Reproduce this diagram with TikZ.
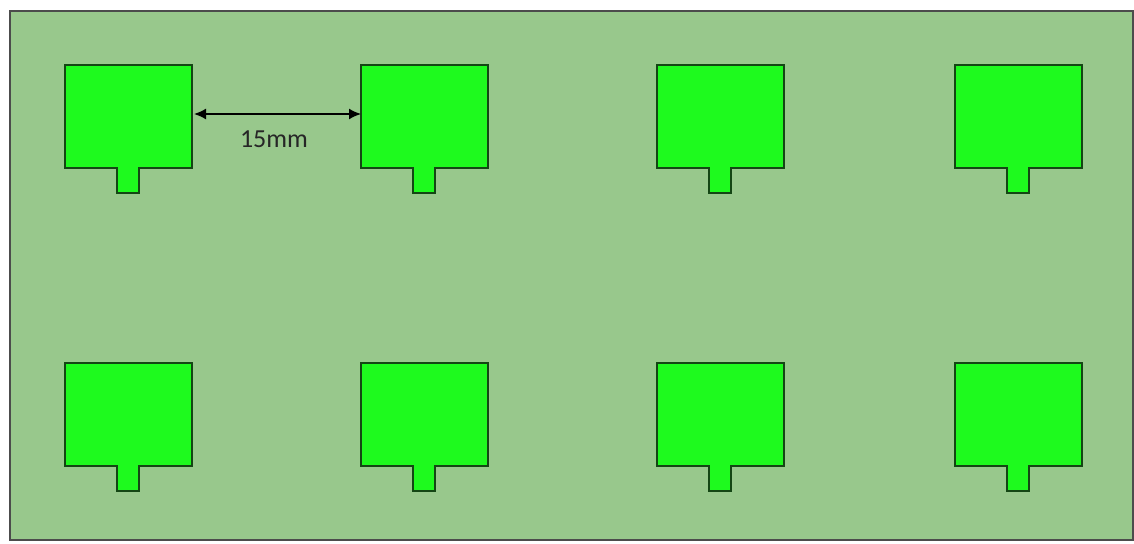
\documentclass[tikz,border=0pt]{standalone}
\usepackage{fontspec}
\setmainfont{Carlito}
\usepackage{tikz}
\usetikzlibrary{arrows, arrows.meta, shapes, positioning}
\definecolor{boardgreen}{RGB}{152,200,140}
\definecolor{patchgreen}{RGB}{30,250,30}
\definecolor{edgegreen}{RGB}{20,70,20}

\tikzset{
  patch/.style={fill=patchgreen, draw=edgegreen, line width=1.4pt, line join=miter},
  board/.style={fill=boardgreen, draw=black!70, line width=1.6pt}
}

\begin{document}
\begin{tikzpicture}[x=1pt, y=-1pt]
\useasboundingbox (0,0) rectangle (1134,543);
\fill [white] (0,0) rectangle (1134,543);
\draw [board] (10,11) rectangle (1133,540);
% top row
\draw [patch] (65,65) -- ++(127,0) -- ++(0,103) -- ++(-53,0) -- ++(0,25) -- ++(-22,0) -- ++(0,-25) -- ++(-52,0) -- cycle;
\draw [patch] (361,65) -- ++(127,0) -- ++(0,103) -- ++(-53,0) -- ++(0,25) -- ++(-22,0) -- ++(0,-25) -- ++(-52,0) -- cycle;
\draw [patch] (657,65) -- ++(127,0) -- ++(0,103) -- ++(-53,0) -- ++(0,25) -- ++(-22,0) -- ++(0,-25) -- ++(-52,0) -- cycle;
\draw [patch] (955,65) -- ++(127,0) -- ++(0,103) -- ++(-53,0) -- ++(0,25) -- ++(-22,0) -- ++(0,-25) -- ++(-52,0) -- cycle;
% bottom row
\draw [patch] (65,363) -- ++(127,0) -- ++(0,103) -- ++(-53,0) -- ++(0,25) -- ++(-22,0) -- ++(0,-25) -- ++(-52,0) -- cycle;
\draw [patch] (361,363) -- ++(127,0) -- ++(0,103) -- ++(-53,0) -- ++(0,25) -- ++(-22,0) -- ++(0,-25) -- ++(-52,0) -- cycle;
\draw [patch] (657,363) -- ++(127,0) -- ++(0,103) -- ++(-53,0) -- ++(0,25) -- ++(-22,0) -- ++(0,-25) -- ++(-52,0) -- cycle;
\draw [patch] (955,363) -- ++(127,0) -- ++(0,103) -- ++(-53,0) -- ++(0,25) -- ++(-22,0) -- ++(0,-25) -- ++(-52,0) -- cycle;
% spacing
\coordinate (gapleft) at (194,114);
\coordinate (gapright) at (361,114);
\draw [{Latex[length=12pt,width=11pt]}-{Latex[length=12pt,width=11pt]}, line width=1.6pt, black] (gapleft) -- (gapright);
\node (gaplabel) at (274,139) {\fontsize{26}{30}\selectfont\color{black!85}15mm};
\end{tikzpicture}
\end{document}
